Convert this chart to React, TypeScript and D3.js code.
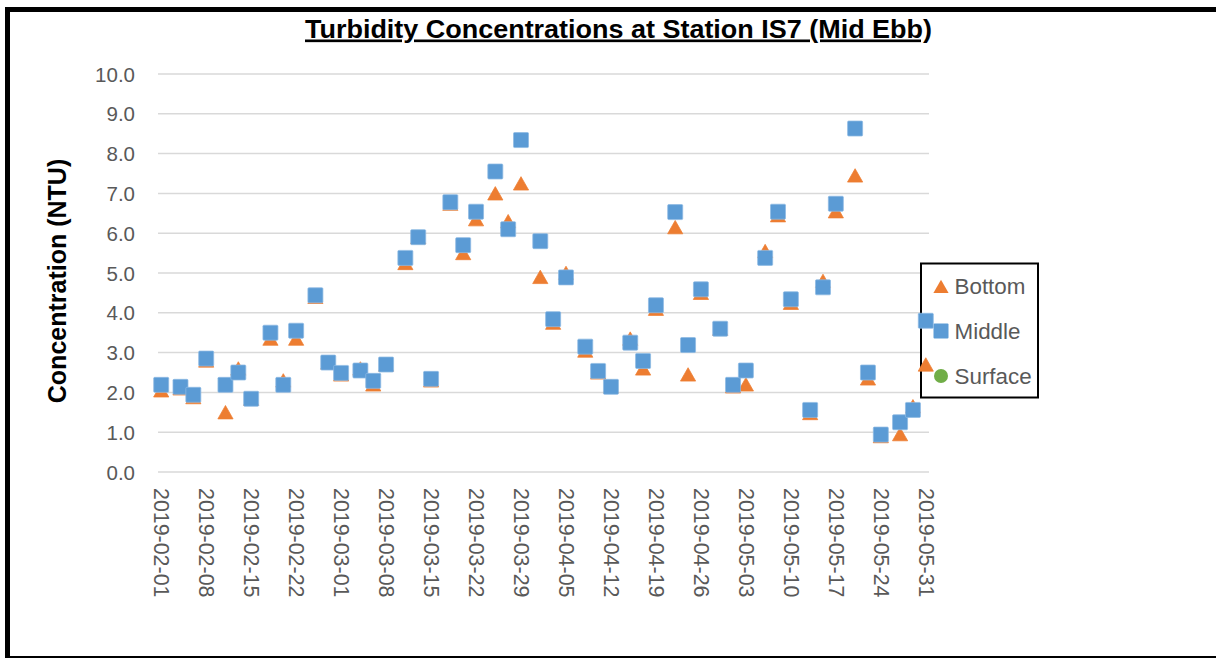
import React from "react";
import * as d3 from "d3";

const sampleDates = [
  "2019-02-01", "2019-02-04", "2019-02-06", "2019-02-08", "2019-02-11", "2019-02-13", "2019-02-15",
  "2019-02-18", "2019-02-20", "2019-02-22", "2019-02-25", "2019-02-27", "2019-03-01", "2019-03-04",
  "2019-03-06", "2019-03-08", "2019-03-11", "2019-03-13", "2019-03-15", "2019-03-18", "2019-03-20",
  "2019-03-22", "2019-03-25", "2019-03-27", "2019-03-29", "2019-04-01", "2019-04-03", "2019-04-05",
  "2019-04-08", "2019-04-10", "2019-04-12", "2019-04-15", "2019-04-17", "2019-04-19", "2019-04-22",
  "2019-04-24", "2019-04-26", "2019-04-29", "2019-05-01", "2019-05-03", "2019-05-06", "2019-05-08",
  "2019-05-10", "2019-05-13", "2019-05-15", "2019-05-17", "2019-05-20", "2019-05-22", "2019-05-24",
  "2019-05-27", "2019-05-29", "2019-05-31",
];

const bottomValues = [
  2.05, 2.1, 1.88, 2.8, 1.5, 2.6, 1.84, 3.35, 2.3, 3.35, 4.4, 2.75, 2.45, 2.6, 2.2, 2.7, 5.25, 5.9,
  2.3, 6.74, 5.5, 6.35, 7.0, 6.3, 7.25, 4.9, 3.75, 5.0, 3.05, 2.5, 2.15, 3.35, 2.6, 4.1, 6.15, 2.45,
  4.5, 3.6, 2.15, 2.2, 5.55, 6.45, 4.25, 1.48, 4.8, 6.55, 7.45, 2.35, 0.9, 0.95, 1.65, 2.7,
];

const middleValues = [
  2.19, 2.14, 1.94, 2.85, 2.19, 2.5, 1.84, 3.5, 2.19, 3.55, 4.44, 2.75, 2.49, 2.55, 2.29, 2.7, 5.38,
  5.9, 2.34, 6.78, 5.7, 6.54, 7.55, 6.1, 8.34, 5.8, 3.84, 4.89, 3.15, 2.54, 2.14, 3.25, 2.79, 4.19,
  6.53, 3.19, 4.59, 3.6, 2.19, 2.55, 5.38, 6.54, 4.34, 1.56, 4.64, 6.74, 8.63, 2.5, 0.94, 1.25, 1.56,
  3.8,
];

const surfaceValues: number[] = [];

const yTicks = [0, 1, 2, 3, 4, 5, 6, 7, 8, 9, 10];

const xTickLabels = [
  "2019-02-01", "2019-02-08", "2019-02-15", "2019-02-22", "2019-03-01", "2019-03-08", "2019-03-15",
  "2019-03-22", "2019-03-29", "2019-04-05", "2019-04-12", "2019-04-19", "2019-04-26", "2019-05-03",
  "2019-05-10", "2019-05-17", "2019-05-24", "2019-05-31",
];

const seriesNames = ["Bottom", "Middle", "Surface"];
const chartTitle = "Turbidity Concentrations at Station IS7 (Mid Ebb)";
const yAxisTitle = "Concentration (NTU)";

const COLORS = { Bottom: "#ED7D31", Middle: "#5B9BD5", Surface: "#70AD47" };
const FONT = "'Liberation Sans', Arial, sans-serif";
const TEXT_GRAY = "#595959";

const parse = (s: string) => {
  const [y, m, d] = s.split("-").map(Number);
  return new Date(Date.UTC(y, m - 1, d));
};

const triPath = "M0,-6.8L7.6,6.6L-7.6,6.6Z";

export default function App() {
  const plotLeft = 158;
  const plotRight = 929;
  const plotTop = 74;
  const plotBottom = 472;

  const x = d3
    .scaleUtc()
    .domain([new Date(Date.UTC(2019, 0, 31, 12)), new Date(Date.UTC(2019, 4, 31, 12))])
    .range([plotLeft, plotRight]);
  const y = d3.scaleLinear().domain([0, 10]).range([plotBottom, plotTop]);

  const bottomPts = sampleDates.map((d, i) => ({ d: parse(d), v: bottomValues[i] }));
  const middlePts = sampleDates.map((d, i) => ({ d: parse(d), v: middleValues[i] }));
  const surfacePts = surfaceValues.map((v, i) => ({ d: parse(sampleDates[i]), v }));

  const legendX = 941;
  const legendYs = [286.5, 331, 376];

  return (
    <svg
      width={1216}
      height={658}
      style={{ position: "absolute", left: 0, top: 0, background: "#fff" }}
      fontFamily={FONT}
    >
      <rect x={0} y={0} width={1216} height={658} fill="#fff" />
      {/* outer frame */}
      <line x1={7.5} y1={7} x2={7.5} y2={658} stroke="#000" strokeWidth={5} />
      <line x1={5} y1={9.5} x2={1216} y2={9.5} stroke="#000" strokeWidth={5} />
      <line x1={5} y1={657} x2={1216} y2={657} stroke="#000" strokeWidth={2} />

      {/* title */}
      <text
        x={618.5}
        y={37.5}
        textAnchor="middle"
        fontSize={26.5}
        fontWeight="bold"
        fill="#000"
        textLength={627}
        lengthAdjust="spacingAndGlyphs"
        style={{ textDecoration: "underline" }}
      >
        {chartTitle}
      </text>

      {/* gridlines */}
      {yTicks.map((t) => (
        <line
          key={"g" + t}
          x1={plotLeft}
          x2={plotRight}
          y1={y(t)}
          y2={y(t)}
          stroke="#D9D9D9"
          strokeWidth={1.5}
        />
      ))}

      {/* y tick labels */}
      {yTicks.map((t) => (
        <text
          key={"yl" + t}
          x={135}
          y={y(t)}
          textAnchor="end"
          dominantBaseline="central"
          fontSize={20.5}
          fill={TEXT_GRAY}
        >
          {t.toFixed(1)}
        </text>
      ))}

      {/* y axis title */}
      <text
        transform={`translate(66,281) rotate(-90)`}
        textAnchor="middle"
        fontSize={25}
        fontWeight="bold"
        fill="#000"
      >
        {yAxisTitle}
      </text>

      {/* x tick labels */}
      {xTickLabels.map((s) => (
        <text
          key={"xl" + s}
          transform={`translate(${x(parse(s))},488) rotate(90)`}
          textAnchor="start"
          dominantBaseline="central"
          fontSize={21.4}
          fill={TEXT_GRAY}
        >
          {s}
        </text>
      ))}

      {/* legend */}
      <rect x={921} y={263.5} width={117} height={134} fill="#fff" stroke="#000" strokeWidth={2} />
      {seriesNames.map((name, i) => {
        const cy = legendYs[i];
        return (
          <g key={"lg" + name}>
            {name === "Bottom" && (
              <path d={triPath} transform={`translate(${legendX},${cy})`} fill={COLORS.Bottom} />
            )}
            {name === "Middle" && (
              <rect
                x={legendX - 7.5}
                y={cy - 7.5}
                width={15}
                height={15}
                rx={1}
                fill={COLORS.Middle}
              />
            )}
            {name === "Surface" && <circle cx={legendX} cy={cy} r={7} fill={COLORS.Surface} />}
            <text x={954.5} y={cy} dominantBaseline="central" fontSize={22.4} fill={TEXT_GRAY}>
              {name}
            </text>
          </g>
        );
      })}

      {/* Bottom series */}
      {bottomPts.map((p, i) => (
        <path
          key={"b" + i}
          d={triPath}
          transform={`translate(${x(p.d)},${y(p.v)})`}
          fill={COLORS.Bottom}
          stroke={COLORS.Bottom}
          strokeWidth={0.75}
          strokeLinejoin="round"
        />
      ))}

      {/* Middle series */}
      {middlePts.map((p, i) => (
        <rect
          key={"m" + i}
          x={x(p.d) - 7.5}
          y={y(p.v) - 7.5}
          width={15}
          height={15}
          rx={1}
          fill={COLORS.Middle}
          stroke="#8DB9E3"
          strokeWidth={0.75}
        />
      ))}

      {/* Surface series */}
      {surfacePts.map((p, i) => (
        <circle key={"s" + i} cx={x(p.d)} cy={y(p.v)} r={7} fill={COLORS.Surface} />
      ))}
    </svg>
  );
}
